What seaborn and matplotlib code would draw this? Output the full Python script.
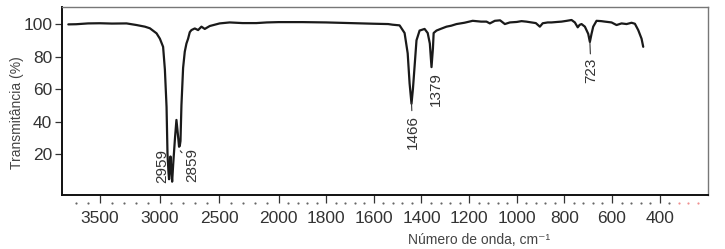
import numpy as np
import pandas as pd
import matplotlib
matplotlib.use("Agg")
import matplotlib.pyplot as plt
import seaborn as sns

# ---------------- data ----------------
wavenumber = [3766, 3700, 3600, 3500, 3400, 3277, 3193, 3123, 3081, 3025, 2997, 2970,
              2955, 2941, 2933, 2925, 2920, 2914, 2908, 2900, 2894, 2885, 2870, 2858,
              2847, 2836, 2830, 2824, 2816, 2802, 2788, 2774, 2760, 2746, 2732, 2704,
              2676, 2648, 2620, 2578, 2495, 2411, 2302, 2187, 2100, 2000, 1900, 1800,
              1700, 1600, 1540, 1521, 1492, 1471, 1458, 1450, 1442, 1436, 1429, 1421,
              1408, 1387, 1374, 1365, 1358, 1352, 1349, 1337, 1320, 1295, 1275, 1253,
              1220, 1185, 1150, 1127, 1113, 1092, 1070, 1050, 1029, 1000, 980, 960,
              938, 920, 903, 891, 870, 854, 830, 812, 790, 770, 756, 744, 736, 728,
              714, 700, 693, 686, 679, 665, 645, 630, 602, 581, 560, 539, 518, 504,
              490, 476, 469]
transmittance = [99.8, 99.9, 100.4, 100.5, 100.3, 100.4, 99.4, 98.4, 97.4, 94.3, 91.0, 86.0,
                 72.0, 49.0, 20.0, 9.0, 4.5, 12.0, 18.5, 9.0, 3.0, 14.0, 30.0, 41.0,
                 33.0, 24.5, 25.0, 28.0, 50.0, 73.0, 83.0, 88.0, 91.0, 95.0, 96.3, 97.3,
                 96.3, 98.4, 97.0, 98.8, 100.4, 101.0, 100.6, 100.6, 101.0, 101.2, 101.2, 101.0,
                 100.6, 100.2, 100.0, 99.6, 99.2, 94.5, 82.0, 63.5, 51.0, 60.0, 74.0, 90.0,
                 96.0, 97.0, 94.5, 88.0, 73.5, 85.0, 94.5, 96.0, 97.0, 98.4, 99.0, 100.0,
                 100.8, 102.0, 101.5, 101.5, 100.4, 102.0, 102.3, 100.0, 101.0, 101.3, 101.8, 101.5,
                 101.0, 100.6, 98.4, 100.5, 101.0, 101.0, 101.3, 101.5, 102.0, 102.5, 101.0, 98.0, 99.5, 100.0,
                 98.4, 94.0, 89.0, 94.0, 98.4, 102.0, 101.8, 101.5, 101.0, 99.4, 100.4, 100.0, 100.8, 100.2,
                 96.3, 91.0, 86.0]

x_major_ticks = [3500, 3000, 2500, 2000, 1800, 1600, 1400, 1200, 1000, 800, 600, 400]
x_minor_grey = [3700, 3600, 3400, 3300, 3200, 3100, 2900, 2800, 2700, 2600, 2400, 2300,
                2200, 2100, 1960, 1920, 1880, 1840, 1760, 1720, 1680, 1640, 1560, 1520,
                1480, 1440, 1360, 1320, 1280, 1240, 1160, 1120, 1080, 1040, 960, 920,
                880, 840, 760, 720, 680, 640, 560, 520, 480, 440, 360]
x_minor_pink = [320, 280, 240]
y_ticks = [20, 40, 60, 80, 100]

peak_labels = ["2959", "2859", "1466", "1379", "723"]
peak_x = [2924, 2826, 1442, 1358, 693]
peak_y = [4.5, 22.0, 51.5, 73.5, 89.0]
label_x = [2977, 2721, 1437, 1341, 688]
label_y = [12.6, 13.5, 33.8, 60.0, 71.4]
label_leader = [False, True, True, False, True]

# ---------------- style ----------------
sns.set_style("white")
plt.rcParams["font.family"] = ["Liberation Sans", "DejaVu Sans"]
narrow = ["Liberation Sans Narrow", "Liberation Sans", "DejaVu Sans"]

fig = plt.figure(figsize=(7.25, 2.49), dpi=100)
ax = fig.add_axes([62 / 725, 1 - 195 / 249, (708 - 62) / 725, (195 - 7) / 249])


def fwd(w):
    w = np.asarray(w, dtype=float)
    return np.where(w > 2000, 2000 + (w - 2000) / 2.0, w)


def inv(u):
    u = np.asarray(u, dtype=float)
    return np.where(u > 2000, 2000 + (u - 2000) * 2.0, u)


ax.set_xscale("function", functions=(fwd, inv))

df = pd.DataFrame({"wn": wavenumber, "T": transmittance})
sns.lineplot(data=df, x="wn", y="T", ax=ax, color="#1a1a1a", lw=1.6,
             sort=False, estimator=None)

ax.set_xlim(3819, 197)
ax.set_ylim(-5.2, 110.5)

ax.set_xticks(x_major_ticks)
ax.set_xticklabels([str(t) for t in x_major_ticks], family=narrow, fontsize=12.5, color="#333333")
ax.set_yticks(y_ticks)
ax.set_yticklabels([str(t) for t in y_ticks], family=narrow, fontsize=12.5, color="#333333")
ax.minorticks_off()
ax.tick_params(axis="x", which="major", direction="out", length=5.5, width=0.9,
               color="#333333", pad=6, bottom=True)
ax.tick_params(axis="y", which="major", direction="out", length=5, width=0.9,
               color="#333333", pad=2, left=True)

ax.set_xlabel("")
ax.set_ylabel("")

for side in ["left", "bottom"]:
    ax.spines[side].set_color("#111111")
    ax.spines[side].set_linewidth(1.4)
for side in ["top", "right"]:
    ax.spines[side].set_color("#777777")
    ax.spines[side].set_linewidth(1.0)

# minor tick dots below the axis
trans = matplotlib.transforms.blended_transform_factory(ax.transData, ax.transAxes)
ax.scatter(x_minor_grey, [-0.043] * len(x_minor_grey), s=2.5, color="#666666",
           transform=trans, clip_on=False, linewidths=0)
ax.scatter(x_minor_pink, [-0.043] * len(x_minor_pink), s=2.5, color="#f09090",
           transform=trans, clip_on=False, linewidths=0)

# peak labels
for lab, px, py, lx, ly, lead in zip(peak_labels, peak_x, peak_y, label_x, label_y, label_leader):
    kw = {}
    if lead:
        kw["arrowprops"] = dict(arrowstyle="-", color="#333333", lw=0.8,
                                shrinkA=0.5, shrinkB=0)
    ax.annotate(lab, xy=(px, py), xytext=(lx, ly), textcoords="data",
                rotation=90, ha="center", va="center", fontsize=11,
                color="#333333", **kw)

fig.text(17 / 725, 1 - 113 / 249, "Transmitância (%)", rotation=90,
         ha="center", va="center", fontsize=10, color="#444444")
fig.text(479 / 725, 1 - 240 / 249, "Número de onda, cm⁻¹", ha="center", va="center",
         fontsize=10, color="#444444")

fig.savefig("out.png", dpi=100)
